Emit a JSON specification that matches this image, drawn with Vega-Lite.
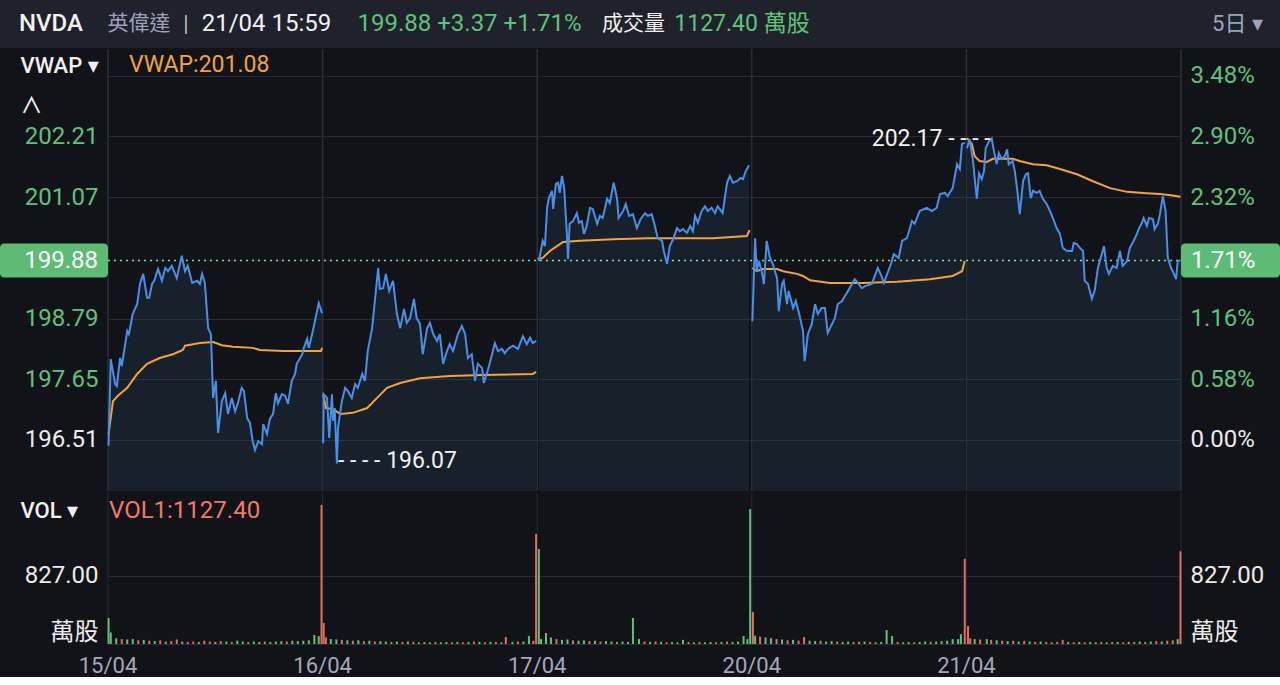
{
  "$schema": "https://vega.github.io/schema/vega-lite/v6.json",
  "background": "#121318",
  "padding": 0,
  "spacing": 0,
  "resolve": {"scale": {"x": "independent"}, "axis": {"x": "independent"}},
  "config": {
    "view": {"stroke": null},
    "font": "Roboto, 'Noto Sans CJK TC', 'DejaVu Sans', sans-serif",
    "axis": {
      "labelFont": "Roboto, 'Noto Sans CJK TC', 'DejaVu Sans', sans-serif",
      "titleFont": "Roboto, 'Noto Sans CJK TC', 'DejaVu Sans', sans-serif",
      "labelFontSize": 24,
      "ticks": false,
      "tickSize": 0,
      "domain": false,
      "gridColor": "#272b34",
      "gridWidth": 1,
      "labelOverlap": false
    }
  },
  "datasets": {
    "px": [
      {"d":0,"t":1,"p":196.40},{"d":0,"t":5,"p":198.03},{"d":0,"t":13,"p":197.56},{"d":0,"t":16,"p":197.52},{"d":0,"t":22,"p":198.05},{"d":0,"t":25,"p":197.90},{"d":0,"t":35,"p":198.56},{"d":0,"t":38,"p":198.50},{"d":0,"t":45,"p":198.88},{"d":0,"t":53,"p":199.06},{"d":0,"t":58,"p":199.44},{"d":0,"t":64,"p":199.63},{"d":0,"t":71,"p":199.18},{"d":0,"t":75,"p":199.18},{"d":0,"t":80,"p":199.44},{"d":0,"t":84,"p":199.50},{"d":0,"t":91,"p":199.72},{"d":0,"t":98,"p":199.50},{"d":0,"t":104,"p":199.74},{"d":0,"t":109,"p":199.68},{"d":0,"t":116,"p":199.78},{"d":0,"t":125,"p":199.55},{"d":0,"t":134,"p":199.97},{"d":0,"t":140,"p":199.68},{"d":0,"t":145,"p":199.78},{"d":0,"t":153,"p":199.46},{"d":0,"t":162,"p":199.50},{"d":0,"t":167,"p":199.44},{"d":0,"t":171,"p":199.63},{"d":0,"t":176,"p":199.46},{"d":0,"t":182,"p":198.61},{"d":0,"t":187,"p":198.50},{"d":0,"t":191,"p":197.30},{"d":0,"t":196,"p":197.62},{"d":0,"t":200,"p":196.64},{"d":0,"t":207,"p":197.24},{"d":0,"t":213,"p":197.39},{"d":0,"t":218,"p":197.00},{"d":0,"t":225,"p":197.30},{"d":0,"t":231,"p":197.05},{"d":0,"t":236,"p":197.20},{"d":0,"t":243,"p":197.49},{"d":0,"t":247,"p":197.43},{"d":0,"t":253,"p":196.92},{"d":0,"t":258,"p":196.83},{"d":0,"t":263,"p":196.49},{"d":0,"t":267,"p":196.32},{"d":0,"t":273,"p":196.49},{"d":0,"t":280,"p":196.43},{"d":0,"t":282,"p":196.81},{"d":0,"t":289,"p":196.62},{"d":0,"t":294,"p":196.90},{"d":0,"t":300,"p":197.00},{"d":0,"t":305,"p":197.39},{"d":0,"t":309,"p":197.20},{"d":0,"t":316,"p":197.37},{"d":0,"t":322,"p":197.34},{"d":0,"t":327,"p":197.19},{"d":0,"t":334,"p":197.62},{"d":0,"t":340,"p":197.75},{"d":0,"t":343,"p":197.94},{"d":0,"t":353,"p":198.12},{"d":0,"t":356,"p":198.24},{"d":0,"t":362,"p":198.41},{"d":0,"t":365,"p":198.24},{"d":0,"t":371,"p":198.50},{"d":0,"t":376,"p":198.74},{"d":0,"t":383,"p":199.08},{"d":0,"t":389,"p":198.89},
      {"d":1,"t":391,"p":196.45},{"d":1,"t":392,"p":197.37},{"d":1,"t":398,"p":197.30},{"d":1,"t":402,"p":196.55},{"d":1,"t":407,"p":197.37},{"d":1,"t":409,"p":196.87},{"d":1,"t":412,"p":197.11},{"d":1,"t":416,"p":196.07},{"d":1,"t":418,"p":196.74},{"d":1,"t":425,"p":197.24},{"d":1,"t":431,"p":197.49},{"d":1,"t":436,"p":197.43},{"d":1,"t":443,"p":197.30},{"d":1,"t":449,"p":197.56},{"d":1,"t":454,"p":197.49},{"d":1,"t":462,"p":197.75},{"d":1,"t":467,"p":197.62},{"d":1,"t":472,"p":198.18},{"d":1,"t":480,"p":198.61},{"d":1,"t":485,"p":199.12},{"d":1,"t":491,"p":199.74},{"d":1,"t":494,"p":199.35},{"d":1,"t":500,"p":199.36},{"d":1,"t":505,"p":199.63},{"d":1,"t":511,"p":199.31},{"d":1,"t":518,"p":199.50},{"d":1,"t":525,"p":198.88},{"d":1,"t":531,"p":198.61},{"d":1,"t":538,"p":198.97},{"d":1,"t":543,"p":198.71},{"d":1,"t":549,"p":198.80},{"d":1,"t":556,"p":199.16},{"d":1,"t":561,"p":198.80},{"d":1,"t":567,"p":198.69},{"d":1,"t":572,"p":198.12},{"d":1,"t":580,"p":198.61},{"d":1,"t":585,"p":198.71},{"d":1,"t":591,"p":198.50},{"d":1,"t":598,"p":198.37},{"d":1,"t":603,"p":198.50},{"d":1,"t":609,"p":197.94},{"d":1,"t":616,"p":198.18},{"d":1,"t":621,"p":198.31},{"d":1,"t":627,"p":198.18},{"d":1,"t":636,"p":198.50},{"d":1,"t":643,"p":198.65},{"d":1,"t":649,"p":198.50},{"d":1,"t":654,"p":198.05},{"d":1,"t":661,"p":198.12},{"d":1,"t":667,"p":197.62},{"d":1,"t":672,"p":197.94},{"d":1,"t":680,"p":197.86},{"d":1,"t":683,"p":197.58},{"d":1,"t":690,"p":197.81},{"d":1,"t":698,"p":198.12},{"d":1,"t":703,"p":198.33},{"d":1,"t":709,"p":198.18},{"d":1,"t":716,"p":198.22},{"d":1,"t":721,"p":198.14},{"d":1,"t":727,"p":198.22},{"d":1,"t":736,"p":198.28},{"d":1,"t":745,"p":198.22},{"d":1,"t":754,"p":198.46},{"d":1,"t":761,"p":198.31},{"d":1,"t":767,"p":198.43},{"d":1,"t":772,"p":198.33},{"d":1,"t":778,"p":198.37},
      {"d":2,"t":783,"p":199.87},{"d":2,"t":790,"p":200.25},{"d":2,"t":794,"p":200.15},{"d":2,"t":798,"p":200.87},{"d":2,"t":801,"p":201.05},{"d":2,"t":807,"p":201.19},{"d":2,"t":809,"p":200.85},{"d":2,"t":814,"p":201.32},{"d":2,"t":818,"p":201.34},{"d":2,"t":821,"p":201.15},{"d":2,"t":825,"p":201.47},{"d":2,"t":829,"p":201.24},{"d":2,"t":834,"p":200.38},{"d":2,"t":836,"p":199.91},{"d":2,"t":839,"p":200.57},{"d":2,"t":845,"p":200.62},{"d":2,"t":852,"p":200.77},{"d":2,"t":856,"p":200.59},{"d":2,"t":861,"p":200.62},{"d":2,"t":865,"p":200.38},{"d":2,"t":870,"p":200.53},{"d":2,"t":876,"p":200.87},{"d":2,"t":881,"p":200.85},{"d":2,"t":889,"p":200.57},{"d":2,"t":894,"p":200.72},{"d":2,"t":899,"p":200.68},{"d":2,"t":907,"p":201.04},{"d":2,"t":912,"p":200.96},{"d":2,"t":919,"p":201.34},{"d":2,"t":925,"p":201.05},{"d":2,"t":928,"p":200.68},{"d":2,"t":936,"p":200.81},{"d":2,"t":941,"p":200.94},{"d":2,"t":947,"p":200.72},{"d":2,"t":954,"p":200.75},{"d":2,"t":961,"p":200.49},{"d":2,"t":968,"p":200.66},{"d":2,"t":976,"p":200.77},{"d":2,"t":981,"p":200.72},{"d":2,"t":988,"p":200.75},{"d":2,"t":994,"p":200.53},{"d":2,"t":999,"p":200.30},{"d":2,"t":1007,"p":200.25},{"d":2,"t":1010,"p":200.06},{"d":2,"t":1016,"p":199.82},{"d":2,"t":1021,"p":200.15},{"d":2,"t":1027,"p":200.28},{"d":2,"t":1034,"p":200.49},{"d":2,"t":1039,"p":200.43},{"d":2,"t":1045,"p":200.47},{"d":2,"t":1052,"p":200.40},{"d":2,"t":1058,"p":200.53},{"d":2,"t":1063,"p":200.43},{"d":2,"t":1067,"p":200.72},{"d":2,"t":1072,"p":200.59},{"d":2,"t":1079,"p":200.81},{"d":2,"t":1085,"p":200.90},{"d":2,"t":1090,"p":200.81},{"d":2,"t":1097,"p":200.87},{"d":2,"t":1103,"p":200.77},{"d":2,"t":1108,"p":200.90},{"d":2,"t":1117,"p":200.77},{"d":2,"t":1125,"p":201.34},{"d":2,"t":1130,"p":201.47},{"d":2,"t":1136,"p":201.34},{"d":2,"t":1143,"p":201.37},{"d":2,"t":1150,"p":201.43},{"d":2,"t":1154,"p":201.41},{"d":2,"t":1159,"p":201.56},{"d":2,"t":1165,"p":201.67},
      {"d":3,"t":1171,"p":198.74},{"d":3,"t":1176,"p":200.30},{"d":3,"t":1179,"p":199.68},{"d":3,"t":1183,"p":199.87},{"d":3,"t":1188,"p":199.68},{"d":3,"t":1192,"p":199.44},{"d":3,"t":1197,"p":200.25},{"d":3,"t":1203,"p":199.93},{"d":3,"t":1208,"p":199.82},{"d":3,"t":1216,"p":199.55},{"d":3,"t":1219,"p":198.93},{"d":3,"t":1225,"p":199.44},{"d":3,"t":1228,"p":199.50},{"d":3,"t":1234,"p":199.06},{"d":3,"t":1237,"p":199.31},{"d":3,"t":1245,"p":198.99},{"d":3,"t":1250,"p":199.12},{"d":3,"t":1256,"p":198.88},{"d":3,"t":1263,"p":198.56},{"d":3,"t":1266,"p":197.99},{"d":3,"t":1272,"p":198.50},{"d":3,"t":1279,"p":198.69},{"d":3,"t":1285,"p":199.06},{"d":3,"t":1290,"p":198.88},{"d":3,"t":1297,"p":198.99},{"d":3,"t":1303,"p":198.99},{"d":3,"t":1308,"p":198.52},{"d":3,"t":1316,"p":198.69},{"d":3,"t":1321,"p":198.80},{"d":3,"t":1326,"p":199.06},{"d":3,"t":1334,"p":199.12},{"d":3,"t":1339,"p":199.21},{"d":3,"t":1345,"p":199.31},{"d":3,"t":1352,"p":199.44},{"d":3,"t":1357,"p":199.53},{"d":3,"t":1363,"p":199.46},{"d":3,"t":1370,"p":199.36},{"d":3,"t":1376,"p":199.40},{"d":3,"t":1388,"p":199.44},{"d":3,"t":1399,"p":199.74},{"d":3,"t":1404,"p":199.63},{"d":3,"t":1410,"p":199.46},{"d":3,"t":1423,"p":199.82},{"d":3,"t":1428,"p":200.00},{"d":3,"t":1437,"p":199.93},{"d":3,"t":1443,"p":200.25},{"d":3,"t":1452,"p":200.30},{"d":3,"t":1461,"p":200.62},{"d":3,"t":1466,"p":200.57},{"d":3,"t":1475,"p":200.81},{"d":3,"t":1488,"p":200.87},{"d":3,"t":1497,"p":200.81},{"d":3,"t":1506,"p":200.87},{"d":3,"t":1512,"p":201.13},{"d":3,"t":1521,"p":201.15},{"d":3,"t":1526,"p":201.09},{"d":3,"t":1535,"p":201.24},{"d":3,"t":1543,"p":201.69},{"d":3,"t":1548,"p":201.60},{"d":3,"t":1552,"p":202.07},{"d":3,"t":1557,"p":202.09},
      {"d":4,"t":1561,"p":201.99},{"d":4,"t":1566,"p":202.16},{"d":4,"t":1572,"p":201.75},{"d":4,"t":1575,"p":201.43},{"d":4,"t":1579,"p":201.04},{"d":4,"t":1583,"p":201.52},{"d":4,"t":1588,"p":201.41},{"d":4,"t":1592,"p":201.56},{"d":4,"t":1595,"p":201.99},{"d":4,"t":1601,"p":202.12},{"d":4,"t":1606,"p":202.17},{"d":4,"t":1610,"p":201.94},{"d":4,"t":1615,"p":201.69},{"d":4,"t":1619,"p":201.90},{"d":4,"t":1624,"p":201.79},{"d":4,"t":1630,"p":201.84},{"d":4,"t":1634,"p":201.97},{"d":4,"t":1637,"p":201.69},{"d":4,"t":1644,"p":201.75},{"d":4,"t":1648,"p":201.56},{"d":4,"t":1652,"p":201.24},{"d":4,"t":1657,"p":200.75},{"d":4,"t":1663,"p":201.37},{"d":4,"t":1668,"p":201.50},{"d":4,"t":1672,"p":201.52},{"d":4,"t":1677,"p":201.05},{"d":4,"t":1681,"p":201.19},{"d":4,"t":1688,"p":201.15},{"d":4,"t":1693,"p":201.19},{"d":4,"t":1699,"p":201.04},{"d":4,"t":1706,"p":200.94},{"d":4,"t":1712,"p":200.81},{"d":4,"t":1717,"p":200.68},{"d":4,"t":1724,"p":200.49},{"d":4,"t":1730,"p":200.38},{"d":4,"t":1735,"p":200.12},{"d":4,"t":1743,"p":200.06},{"d":4,"t":1752,"p":200.06},{"d":4,"t":1755,"p":200.21},{"d":4,"t":1761,"p":200.19},{"d":4,"t":1766,"p":200.12},{"d":4,"t":1772,"p":200.06},{"d":4,"t":1775,"p":199.50},{"d":4,"t":1781,"p":199.44},{"d":4,"t":1788,"p":199.16},{"d":4,"t":1793,"p":199.31},{"d":4,"t":1799,"p":199.74},{"d":4,"t":1806,"p":200.00},{"d":4,"t":1810,"p":200.15},{"d":4,"t":1815,"p":199.74},{"d":4,"t":1819,"p":199.63},{"d":4,"t":1826,"p":199.78},{"d":4,"t":1833,"p":199.74},{"d":4,"t":1839,"p":200.06},{"d":4,"t":1844,"p":199.78},{"d":4,"t":1852,"p":199.87},{"d":4,"t":1857,"p":200.12},{"d":4,"t":1862,"p":200.21},{"d":4,"t":1870,"p":200.38},{"d":4,"t":1873,"p":200.47},{"d":4,"t":1879,"p":200.59},{"d":4,"t":1882,"p":200.68},{"d":4,"t":1888,"p":200.53},{"d":4,"t":1892,"p":200.68},{"d":4,"t":1899,"p":200.66},{"d":4,"t":1902,"p":200.47},{"d":4,"t":1908,"p":200.57},{"d":4,"t":1912,"p":200.77},{"d":4,"t":1917,"p":201.09},{"d":4,"t":1922,"p":200.81},{"d":4,"t":1926,"p":199.93},{"d":4,"t":1932,"p":199.74},{"d":4,"t":1935,"p":199.68},{"d":4,"t":1941,"p":199.53},{"d":4,"t":1944,"p":199.87},{"d":4,"t":1949,"p":199.88}
    ],
    "vw": [
      {"d":0,"t":1,"w":196.62},{"d":0,"t":9,"w":197.24},{"d":0,"t":18,"w":197.34},{"d":0,"t":35,"w":197.49},{"d":0,"t":53,"w":197.75},{"d":0,"t":71,"w":197.94},{"d":0,"t":94,"w":198.05},{"d":0,"t":118,"w":198.12},{"d":0,"t":136,"w":198.20},{"d":0,"t":140,"w":198.28},{"d":0,"t":167,"w":198.33},{"d":0,"t":191,"w":198.35},{"d":0,"t":207,"w":198.29},{"d":0,"t":227,"w":198.26},{"d":0,"t":263,"w":198.24},{"d":0,"t":276,"w":198.20},{"d":0,"t":318,"w":198.18},{"d":0,"t":387,"w":198.18},{"d":0,"t":389,"w":198.24},
      {"d":1,"t":391,"w":197.37},{"d":1,"t":396,"w":197.11},{"d":1,"t":409,"w":197.09},{"d":1,"t":422,"w":197.00},{"d":1,"t":445,"w":197.02},{"d":1,"t":471,"w":197.11},{"d":1,"t":489,"w":197.30},{"d":1,"t":507,"w":197.49},{"d":1,"t":531,"w":197.58},{"d":1,"t":567,"w":197.67},{"d":1,"t":621,"w":197.71},{"d":1,"t":681,"w":197.73},{"d":1,"t":772,"w":197.75},{"d":1,"t":778,"w":197.79},
      {"d":2,"t":781,"w":199.91},{"d":2,"t":790,"w":199.93},{"d":2,"t":803,"w":200.06},{"d":2,"t":816,"w":200.15},{"d":2,"t":827,"w":200.23},{"d":2,"t":858,"w":200.25},{"d":2,"t":918,"w":200.28},{"d":2,"t":980,"w":200.30},{"d":2,"t":1039,"w":200.30},{"d":2,"t":1099,"w":200.30},{"d":2,"t":1161,"w":200.34},{"d":2,"t":1166,"w":200.45},
      {"d":3,"t":1171,"w":199.74},{"d":3,"t":1179,"w":199.68},{"d":3,"t":1190,"w":199.72},{"d":3,"t":1216,"w":199.72},{"d":3,"t":1227,"w":199.68},{"d":3,"t":1252,"w":199.63},{"d":3,"t":1263,"w":199.59},{"d":3,"t":1276,"w":199.51},{"d":3,"t":1312,"w":199.46},{"d":3,"t":1372,"w":199.46},{"d":3,"t":1434,"w":199.48},{"d":3,"t":1494,"w":199.53},{"d":3,"t":1535,"w":199.59},{"d":3,"t":1552,"w":199.68},{"d":3,"t":1557,"w":199.87},
      {"d":4,"t":1561,"w":202.18},{"d":4,"t":1570,"w":202.07},{"d":4,"t":1575,"w":201.84},{"d":4,"t":1584,"w":201.75},{"d":4,"t":1597,"w":201.73},{"d":4,"t":1608,"w":201.79},{"d":4,"t":1621,"w":201.79},{"d":4,"t":1644,"w":201.79},{"d":4,"t":1657,"w":201.75},{"d":4,"t":1681,"w":201.69},{"d":4,"t":1706,"w":201.67},{"d":4,"t":1730,"w":201.60},{"d":4,"t":1761,"w":201.50},{"d":4,"t":1790,"w":201.37},{"d":4,"t":1821,"w":201.24},{"d":4,"t":1852,"w":201.17},{"d":4,"t":1881,"w":201.15},{"d":4,"t":1912,"w":201.13},{"d":4,"t":1935,"w":201.10},{"d":4,"t":1949,"w":201.08}
    ],
    "vol": [
      {"t":1,"v":316,"s":"u"},{"t":5,"v":140,"s":"u"},{"t":15,"v":70,"s":"u"},{"t":25,"v":60,"s":"d"},{"t":35,"v":55,"s":"u"},{"t":45,"v":60,"s":"u"},{"t":55,"v":45,"s":"d"},{"t":65,"v":50,"s":"u"},{"t":75,"v":40,"s":"d"},{"t":85,"v":35,"s":"u"},{"t":95,"v":45,"s":"d"},{"t":105,"v":30,"s":"u"},{"t":115,"v":35,"s":"d"},{"t":125,"v":55,"s":"d"},{"t":135,"v":30,"s":"u"},{"t":145,"v":25,"s":"d"},{"t":155,"v":30,"s":"d"},{"t":165,"v":25,"s":"u"},{"t":175,"v":40,"s":"d"},{"t":185,"v":30,"s":"d"},{"t":195,"v":25,"s":"u"},{"t":205,"v":35,"s":"d"},{"t":215,"v":30,"s":"u"},{"t":225,"v":25,"s":"d"},{"t":235,"v":40,"s":"u"},{"t":245,"v":30,"s":"u"},{"t":255,"v":25,"s":"d"},{"t":265,"v":30,"s":"u"},{"t":275,"v":25,"s":"u"},{"t":285,"v":30,"s":"d"},{"t":295,"v":25,"s":"u"},{"t":305,"v":30,"s":"u"},{"t":315,"v":35,"s":"u"},{"t":325,"v":30,"s":"d"},{"t":335,"v":40,"s":"u"},{"t":345,"v":35,"s":"u"},{"t":355,"v":40,"s":"u"},{"t":365,"v":45,"s":"u"},{"t":375,"v":110,"s":"u"},{"t":383,"v":95,"s":"u"},{"t":388,"v":1690,"s":"d"},
      {"t":392,"v":255,"s":"d"},{"t":396,"v":80,"s":"d"},{"t":405,"v":60,"s":"u"},{"t":415,"v":55,"s":"u"},{"t":425,"v":50,"s":"d"},{"t":435,"v":45,"s":"u"},{"t":445,"v":40,"s":"d"},{"t":455,"v":45,"s":"u"},{"t":465,"v":35,"s":"d"},{"t":475,"v":40,"s":"u"},{"t":485,"v":30,"s":"d"},{"t":495,"v":35,"s":"u"},{"t":505,"v":30,"s":"u"},{"t":515,"v":25,"s":"d"},{"t":525,"v":30,"s":"u"},{"t":535,"v":25,"s":"d"},{"t":545,"v":30,"s":"u"},{"t":555,"v":25,"s":"d"},{"t":565,"v":20,"s":"u"},{"t":575,"v":25,"s":"d"},{"t":585,"v":20,"s":"u"},{"t":595,"v":25,"s":"d"},{"t":605,"v":20,"s":"u"},{"t":615,"v":25,"s":"u"},{"t":625,"v":20,"s":"d"},{"t":635,"v":25,"s":"u"},{"t":645,"v":20,"s":"d"},{"t":655,"v":25,"s":"u"},{"t":665,"v":30,"s":"d"},{"t":675,"v":25,"s":"u"},{"t":685,"v":20,"s":"d"},{"t":695,"v":25,"s":"u"},{"t":705,"v":25,"s":"d"},{"t":715,"v":20,"s":"u"},{"t":723,"v":85,"s":"d"},{"t":735,"v":25,"s":"u"},{"t":745,"v":30,"s":"d"},{"t":755,"v":30,"s":"u"},{"t":765,"v":97,"s":"u"},{"t":773,"v":40,"s":"d"},{"t":778,"v":1338,"s":"d"},
      {"t":783,"v":1155,"s":"u"},{"t":787,"v":60,"s":"u"},{"t":796,"v":134,"s":"u"},{"t":805,"v":80,"s":"u"},{"t":815,"v":60,"s":"d"},{"t":825,"v":50,"s":"u"},{"t":835,"v":55,"s":"u"},{"t":845,"v":45,"s":"d"},{"t":855,"v":40,"s":"u"},{"t":865,"v":45,"s":"u"},{"t":875,"v":35,"s":"d"},{"t":885,"v":40,"s":"u"},{"t":895,"v":30,"s":"d"},{"t":905,"v":35,"s":"u"},{"t":915,"v":30,"s":"u"},{"t":925,"v":25,"s":"d"},{"t":935,"v":30,"s":"u"},{"t":945,"v":25,"s":"u"},{"t":954,"v":316,"s":"u"},{"t":965,"v":60,"s":"u"},{"t":975,"v":30,"s":"d"},{"t":985,"v":25,"s":"u"},{"t":995,"v":30,"s":"d"},{"t":1005,"v":25,"s":"u"},{"t":1015,"v":20,"s":"d"},{"t":1025,"v":25,"s":"u"},{"t":1035,"v":20,"s":"u"},{"t":1045,"v":50,"s":"u"},{"t":1055,"v":25,"s":"d"},{"t":1065,"v":20,"s":"u"},{"t":1075,"v":25,"s":"d"},{"t":1085,"v":20,"s":"u"},{"t":1095,"v":25,"s":"u"},{"t":1105,"v":20,"s":"d"},{"t":1115,"v":25,"s":"u"},{"t":1125,"v":30,"s":"d"},{"t":1135,"v":25,"s":"u"},{"t":1145,"v":30,"s":"u"},{"t":1155,"v":97,"s":"u"},{"t":1162,"v":60,"s":"u"},{"t":1167,"v":1640,"s":"u"},
      {"t":1172,"v":390,"s":"d"},{"t":1176,"v":100,"s":"u"},{"t":1185,"v":90,"s":"d"},{"t":1195,"v":80,"s":"u"},{"t":1205,"v":70,"s":"u"},{"t":1215,"v":60,"s":"d"},{"t":1225,"v":55,"s":"u"},{"t":1235,"v":45,"s":"d"},{"t":1245,"v":50,"s":"u"},{"t":1255,"v":40,"s":"d"},{"t":1265,"v":85,"s":"d"},{"t":1275,"v":40,"s":"u"},{"t":1285,"v":35,"s":"u"},{"t":1295,"v":40,"s":"d"},{"t":1305,"v":30,"s":"u"},{"t":1315,"v":35,"s":"u"},{"t":1325,"v":30,"s":"d"},{"t":1335,"v":25,"s":"u"},{"t":1345,"v":30,"s":"u"},{"t":1355,"v":25,"s":"d"},{"t":1365,"v":25,"s":"u"},{"t":1375,"v":30,"s":"u"},{"t":1385,"v":25,"s":"d"},{"t":1395,"v":20,"s":"u"},{"t":1405,"v":25,"s":"u"},{"t":1415,"v":170,"s":"u"},{"t":1425,"v":97,"s":"u"},{"t":1435,"v":25,"s":"d"},{"t":1445,"v":20,"s":"u"},{"t":1455,"v":25,"s":"u"},{"t":1465,"v":20,"s":"d"},{"t":1475,"v":25,"s":"u"},{"t":1485,"v":30,"s":"u"},{"t":1495,"v":25,"s":"d"},{"t":1505,"v":30,"s":"u"},{"t":1515,"v":35,"s":"u"},{"t":1525,"v":40,"s":"u"},{"t":1535,"v":60,"s":"u"},{"t":1545,"v":60,"s":"u"},{"t":1550,"v":120,"s":"u"},{"t":1557,"v":1035,"s":"d"},
      {"t":1563,"v":220,"s":"d"},{"t":1567,"v":70,"s":"d"},{"t":1575,"v":60,"s":"u"},{"t":1585,"v":55,"s":"d"},{"t":1597,"v":60,"s":"u"},{"t":1605,"v":50,"s":"d"},{"t":1615,"v":45,"s":"u"},{"t":1625,"v":40,"s":"d"},{"t":1635,"v":35,"s":"u"},{"t":1645,"v":40,"s":"d"},{"t":1655,"v":30,"s":"u"},{"t":1665,"v":35,"s":"d"},{"t":1675,"v":30,"s":"u"},{"t":1685,"v":25,"s":"d"},{"t":1695,"v":30,"s":"u"},{"t":1705,"v":25,"s":"d"},{"t":1715,"v":20,"s":"u"},{"t":1725,"v":25,"s":"d"},{"t":1735,"v":50,"s":"d"},{"t":1745,"v":25,"s":"u"},{"t":1755,"v":20,"s":"d"},{"t":1765,"v":25,"s":"u"},{"t":1775,"v":20,"s":"d"},{"t":1785,"v":25,"s":"u"},{"t":1795,"v":20,"s":"u"},{"t":1805,"v":25,"s":"d"},{"t":1815,"v":20,"s":"u"},{"t":1825,"v":25,"s":"d"},{"t":1835,"v":25,"s":"u"},{"t":1845,"v":20,"s":"d"},{"t":1855,"v":25,"s":"u"},{"t":1865,"v":25,"s":"d"},{"t":1875,"v":30,"s":"u"},{"t":1885,"v":25,"s":"d"},{"t":1895,"v":30,"s":"u"},{"t":1905,"v":35,"s":"d"},{"t":1915,"v":30,"s":"u"},{"t":1925,"v":40,"s":"d"},{"t":1935,"v":45,"s":"d"},{"t":1944,"v":60,"s":"u"},{"t":1949,"v":1127.4,"s":"d"}
    ],
    "days": [
      {"t": 0, "lab": "15/04"}, {"t": 390, "lab": "16/04"}, {"t": 780, "lab": "17/04"},
      {"t": 1170, "lab": "20/04"}, {"t": 1560, "lab": "21/04"}, {"t": 1950, "lab": ""}
    ],
    "last": [{"p": 199.88, "c": 0.0171}],
    "hi": [{"t": 1606, "p": 202.17, "label": "202.17 - - - -"}],
    "lo": [{"t": 416, "p": 196.07, "label": "- - - - 196.07"}]
  },
  "vconcat": [
    {
      "spacing": 0,
      "hconcat": [
        {"width": 102, "height": 48, "view": {"fill": "#1f222a"}, "data": {"values": [{}]}, "mark": {"type": "text", "text": "NVDA", "fontSize": 24, "fontWeight": 500, "color": "#f2f2f2"}},
        {"width": 74, "height": 48, "view": {"fill": "#1f222a"}, "data": {"values": [{}]}, "mark": {"type": "text", "text": "英偉達", "fontSize": 21, "color": "#9ea3bd"}},
        {"width": 20, "height": 48, "view": {"fill": "#1f222a"}, "data": {"values": [{}]}, "mark": {"type": "text", "text": "|", "fontSize": 22, "color": "#b8bccb"}},
        {"width": 141, "height": 48, "view": {"fill": "#1f222a"}, "data": {"values": [{}]}, "mark": {"type": "text", "text": "21/04 15:59", "fontSize": 24, "color": "#f2f2f2"}},
        {"width": 265, "height": 48, "view": {"fill": "#1f222a"}, "data": {"values": [{}]}, "mark": {"type": "text", "text": "199.88 +3.37 +1.71%", "fontSize": 24, "color": "#5fc27c"}},
        {"width": 63, "height": 48, "view": {"fill": "#1f222a"}, "data": {"values": [{}]}, "mark": {"type": "text", "text": "成交量", "fontSize": 21, "color": "#f2f2f2"}},
        {"width": 154, "height": 48, "view": {"fill": "#1f222a"}, "data": {"values": [{}]}, "mark": {"type": "text", "text": "1127.40 萬股", "fontSize": 23, "color": "#5fc27c"}},
        {"width": 376, "height": 48, "view": {"fill": "#1f222a"}, "data": {"values": [{}]}, "mark": {"type": "text", "text": ""}},
        {"width": 85, "height": 48, "view": {"fill": "#1f222a"}, "data": {"values": [{}]}, "mark": {"type": "text", "text": "5日  ▾", "fontSize": 22, "color": "#9ea3bd"}}
      ]
    },
    {
      "width": 1280,
      "height": 442,
      "layer": [
        {
          "data": {"name": "px"},
          "mark": {"type": "area", "color": "#4a8fe6", "opacity": 0.1},
          "encoding": {
            "x": {
              "field": "t", "type": "quantitative",
              "scale": {"domain": [0, 1950], "range": [108, 1181], "padding": 0, "nice": false, "zero": false},
              "axis": {"values": [0, 390, 780, 1170, 1560, 1950], "labels": false, "grid": true, "domain": true, "domainColor": "#050507", "domainWidth": 2, "title": null}
            },
            "y": {
              "field": "p", "type": "quantitative",
              "scale": {"domain": [195.552, 203.853], "nice": false, "zero": false},
              "axis": {
                "orient": "left",
                "offset": -108,
                "values": [203.35, 202.21, 201.07, 198.79, 197.65, 196.51],
                "labelExpr": "datum.value > 203 ? '' : format(datum.value, '.2f')",
                "labelColor": {"condition": {"test": "datum.value < 196.6", "value": "#ececec"}, "value": "#5fc27c"},
                "labelPadding": 10,
                "grid": true,
                "title": ["VWAP ▾", "∧"],
                "titleAngle": 0, "titleAlign": "left", "titleBaseline": "top",
                "titleX": -88, "titleY": 6, "titleFontSize": 22, "titleFontWeight": 500,
                "titleLineHeight": 40, "titleColor": "#f0f0f0"
              }
            },
            "y2": {"datum": 195.552},
            "detail": {"field": "d"}
          }
        },
        {
          "data": {"name": "days"},
          "mark": {"type": "rule", "color": "#2b2f39", "strokeWidth": 1.5},
          "encoding": {"x": {"field": "t", "type": "quantitative", "axis": null}}
        },
        {
          "data": {"name": "last"},
          "mark": {"type": "rule", "color": "#86dba0", "strokeDash": [2, 4], "strokeWidth": 1.5},
          "encoding": {
            "x": {"datum": 0, "type": "quantitative", "axis": null},
            "x2": {"datum": 1950},
            "y": {"field": "p", "type": "quantitative", "axis": null}
          }
        },
        {
          "data": {"name": "vw"},
          "mark": {"type": "line", "color": "#f2a33a", "strokeWidth": 2},
          "encoding": {
            "x": {"field": "t", "type": "quantitative", "axis": null},
            "y": {
              "field": "w", "type": "quantitative",
              "axis": {
                "orient": "right",
                "offset": -99,
                "values": [203.35, 202.21, 201.07, 198.79, 197.65, 196.51],
                "labelExpr": "format((datum.value - 196.51) / 196.51, '.2%')",
                "labelColor": {"condition": {"test": "datum.value < 196.6", "value": "#ececec"}, "value": "#5fc27c"},
                "labelPadding": 9, "grid": false, "title": null
              }
            },
            "detail": {"field": "d"}
          }
        },
        {
          "data": {"name": "px"},
          "mark": {"type": "line", "color": "#4a8fe6", "strokeWidth": 2},
          "encoding": {
            "x": {"field": "t", "type": "quantitative", "axis": null},
            "y": {"field": "p", "type": "quantitative", "axis": null},
            "detail": {"field": "d"}
          }
        },
        {
          "data": {"name": "last"},
          "mark": {"type": "rect", "color": "#5dbb76", "cornerRadius": 4, "xOffset": -108, "yOffset": -17, "y2Offset": 17},
          "encoding": {
            "x": {"datum": 0, "type": "quantitative", "axis": null},
            "x2": {"datum": 0},
            "y": {"field": "p", "type": "quantitative", "axis": null},
            "y2": {"field": "p"}
          }
        },
        {
          "data": {"name": "last"},
          "mark": {"type": "text", "align": "right", "baseline": "middle", "dx": -10, "fontSize": 24, "color": "#ffffff"},
          "encoding": {
            "x": {"datum": 0, "type": "quantitative", "axis": null},
            "y": {"field": "p", "type": "quantitative", "axis": null},
            "text": {"field": "p", "type": "quantitative", "format": ".2f"}
          }
        },
        {
          "data": {"name": "last"},
          "mark": {"type": "rect", "color": "#5dbb76", "cornerRadius": 4, "x2Offset": 99, "yOffset": -17, "y2Offset": 17},
          "encoding": {
            "x": {"datum": 1950, "type": "quantitative", "axis": null},
            "x2": {"datum": 1950},
            "y": {"field": "p", "type": "quantitative", "axis": null},
            "y2": {"field": "p"}
          }
        },
        {
          "data": {"name": "last"},
          "mark": {"type": "text", "align": "left", "baseline": "middle", "dx": 10, "fontSize": 24, "color": "#ffffff"},
          "encoding": {
            "x": {"datum": 1950, "type": "quantitative", "axis": null},
            "y": {"field": "p", "type": "quantitative", "axis": null},
            "text": {"field": "c", "type": "quantitative", "format": ".2%"}
          }
        },
        {
          "data": {"name": "hi"},
          "mark": {"type": "text", "align": "right", "baseline": "middle", "dx": -1, "fontSize": 23, "color": "#f2f2f2"},
          "encoding": {
            "x": {"field": "t", "type": "quantitative", "axis": null},
            "y": {"field": "p", "type": "quantitative", "axis": null},
            "text": {"field": "label"}
          }
        },
        {
          "data": {"name": "lo"},
          "mark": {"type": "text", "align": "left", "baseline": "middle", "dx": 1, "dy": -2, "fontSize": 23, "color": "#f2f2f2"},
          "encoding": {
            "x": {"field": "t", "type": "quantitative", "axis": null},
            "y": {"field": "p", "type": "quantitative", "axis": null},
            "text": {"field": "label"}
          }
        },
        {
          "data": {"name": "last"},
          "mark": {"type": "text", "align": "left", "baseline": "middle", "dx": 21, "fontSize": 23, "color": "#f2a33a"},
          "encoding": {
            "x": {"datum": 0, "type": "quantitative", "axis": null},
            "y": {"datum": 203.55, "type": "quantitative", "axis": null},
            "text": {"value": "VWAP:201.08"}
          }
        }
      ],
      "resolve": {"axis": {"y": "independent"}}
    },
    {
      "width": 1280,
      "height": 151,
      "layer": [
        {
          "data": {"name": "days"},
          "mark": {"type": "rule", "color": "#272b34", "strokeWidth": 1},
          "encoding": {
            "x": {"field": "t", "type": "quantitative", "scale": {"domain": [0, 1950], "range": [108, 1181], "padding": 0, "nice": false, "zero": false}, "axis": null}
          }
        },
        {
          "data": {"name": "vol"},
          "mark": {"type": "bar", "width": 2},
          "encoding": {
            "x": {"field": "t", "type": "quantitative", "axis": null},
            "y": {
              "field": "v", "type": "quantitative",
              "scale": {"domain": [0, 1836], "nice": false},
              "axis": {
                "orient": "left",
                "offset": -108,
                "values": [0, 827],
                "labelExpr": "datum.value == 0 ? '萬股' : format(datum.value, '.2f')",
                "labelColor": "#ececec", "labelPadding": 10,
                "labelOffset": {"condition": {"test": "datum.value == 0", "value": -12}, "value": 0},
                "grid": true,
                "title": "VOL ▾",
                "titleAngle": 0, "titleAlign": "left", "titleBaseline": "top",
                "titleX": -88, "titleY": 7, "titleFontSize": 22, "titleFontWeight": 500, "titleColor": "#f0f0f0"
              }
            },
            "color": {
              "field": "s", "type": "nominal",
              "scale": {"domain": ["u", "d"], "range": ["#5ec27b", "#e56b61"]},
              "legend": null
            }
          }
        },
        {
          "data": {"name": "days"},
          "mark": {"type": "text", "align": "center", "baseline": "top", "dy": 12, "fontSize": 22, "color": "#a4a8bd"},
          "encoding": {
            "x": {"field": "t", "type": "quantitative", "axis": null},
            "y": {"datum": 0, "type": "quantitative", "axis": null},
            "text": {"field": "lab"}
          }
        },
        {
          "data": {"name": "last"},
          "mark": {"type": "text", "align": "left", "baseline": "middle", "dx": 1, "fontSize": 24, "color": "#ef7a6a"},
          "encoding": {
            "x": {"datum": 0, "type": "quantitative", "axis": null},
            "y": {
              "datum": 1617, "type": "quantitative",
              "axis": {
                "orient": "right",
                "offset": -99,
                "values": [0, 827],
                "labelExpr": "datum.value == 0 ? '萬股' : format(datum.value, '.2f')",
                "labelColor": "#ececec", "labelPadding": 9,
                "labelOffset": {"condition": {"test": "datum.value == 0", "value": -12}, "value": 0},
                "grid": false, "title": null
              }
            },
            "text": {"value": "VOL1:1127.40"}
          }
        }
      ],
      "resolve": {"axis": {"y": "independent"}}
    }
  ]
}
